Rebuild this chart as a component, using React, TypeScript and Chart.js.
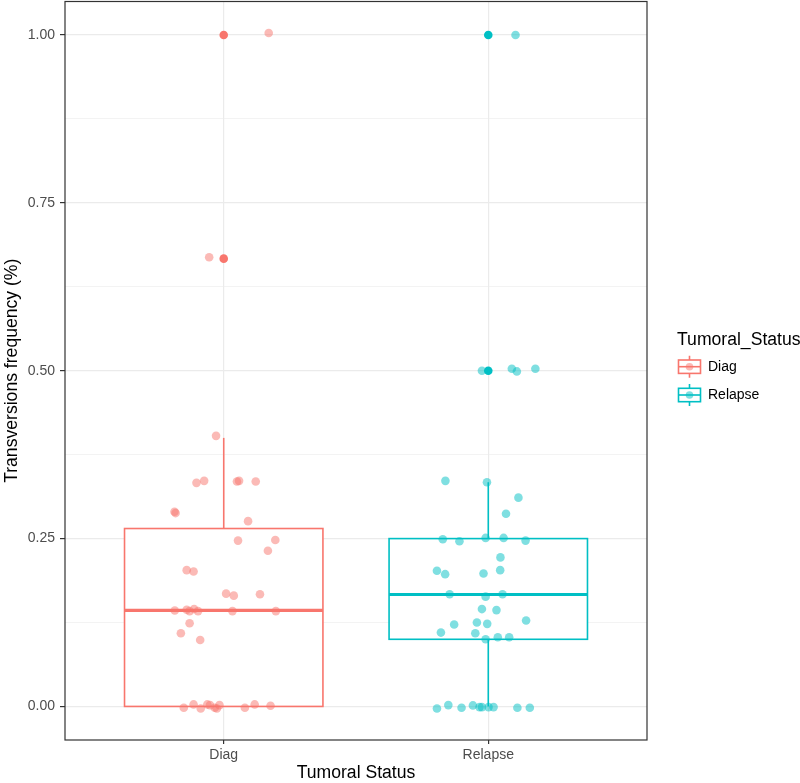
import React, { useEffect, useRef } from "react";
import { Chart, registerables } from "chart.js";

Chart.register(...registerables);

const CATEGORIES = ["Diag", "Relapse"];
const COLORS = ["#F8766D", "#00BFC4"];
const COLORS_ALPHA = ["rgba(248,118,109,0.5)", "rgba(0,191,196,0.5)"];
const Y_TICKS = [0, 0.125, 0.25, 0.375, 0.5, 0.625, 0.75, 0.875, 1.0];
const Y_TICK_LABELS = ["0.00", "", "0.25", "", "0.50", "", "0.75", "", "1.00"];
const X_TITLE = "Tumoral Status";
const Y_TITLE = "Transversions frequency (%)";
const LEGEND_TITLE = "Tumoral_Status";

// box statistics: [lower whisker, Q1, median, Q3, upper whisker]
const DIAG_BOX = [0, 0, 0.143, 0.265, 0.4];
const RELAPSE_BOX = [0, 0.1, 0.1667, 0.25, 0.334];
const DIAG_OUTLIERS = [1.0, 0.667];
const RELAPSE_OUTLIERS = [1.0, 0.5];

// jittered observations (x = category position + jitter)
const DIAG_X = [
  1.17, 0.945, 0.971, 0.897, 0.926, 1.05, 1.058, 1.121, 0.814, 0.818, 1.092,
  1.054, 1.195, 1.167, 0.86, 0.886, 1.009, 1.038, 1.137, 0.815, 0.86, 0.871,
  0.888, 0.903, 1.033, 1.197, 0.871, 0.838, 0.911, 0.849, 0.886, 0.913, 0.938,
  0.948, 0.966, 0.974, 0.984, 1.08, 1.117, 1.177,
];
const DIAG_Y = [
  1.003, 0.669, 0.403, 0.333, 0.336, 0.335, 0.336, 0.335, 0.29, 0.288, 0.276,
  0.247, 0.248, 0.232, 0.203, 0.201, 0.168, 0.165, 0.167, 0.143, 0.144, 0.142,
  0.145, 0.142, 0.142, 0.142, 0.124, 0.109, 0.099, -0.002, 0.003, -0.003, 0.003,
  0.002, -0.002, -0.003, 0.002, -0.002, 0.003, 0.001,
];
const RELAPSE_X = [
  2.103, 1.976, 2.089, 2.108, 2.178, 1.838, 1.995, 2.114, 2.067, 1.828, 1.891,
  1.99, 2.058, 2.141, 2.046, 1.806, 1.837, 1.982, 2.045, 1.854, 1.99, 2.054,
  1.976, 2.031, 2.143, 1.871, 1.957, 1.996, 1.821, 1.951, 1.99, 2.036, 2.079,
  1.806, 1.849, 1.899, 1.942, 1.967, 1.976, 2.001, 2.02, 2.11, 2.157,
];
const RELAPSE_Y = [
  1.0, 0.5, 0.503, 0.499, 0.503, 0.336, 0.334, 0.311, 0.287, 0.249, 0.246,
  0.251, 0.251, 0.247, 0.222, 0.202, 0.197, 0.198, 0.203, 0.167, 0.1635, 0.167,
  0.145, 0.1435, 0.128, 0.122, 0.125, 0.123, 0.11, 0.109, 0.1, 0.103, 0.103,
  -0.003, 0.002, -0.002, 0.0015, -0.001, -0.001, -0.001, -0.001, -0.002, -0.002,
];

const FONT = "'Liberation Sans', Arial, sans-serif";
const BOX_WIDTH = 0.75;

const isMajor = (v: number) => Math.abs(v / 0.25 - Math.round(v / 0.25)) < 1e-6;

const panelPlugin = {
  id: "ggpanel",
  beforeDatasetsDraw(chart: any) {
    const { ctx, scales } = chart;
    const x = scales.x;
    const y = scales.y;
    [DIAG_BOX, RELAPSE_BOX].forEach((b, i) => {
      const pos = i + 1;
      const cx = x.getPixelForValue(pos);
      const l = x.getPixelForValue(pos - BOX_WIDTH / 2);
      const r = x.getPixelForValue(pos + BOX_WIDTH / 2);
      const [lw, q1, med, q3, uw] = b.map((v) => y.getPixelForValue(v));
      ctx.save();
      ctx.strokeStyle = COLORS[i];
      ctx.lineWidth = 1.6;
      ctx.beginPath();
      ctx.moveTo(cx, q3);
      ctx.lineTo(cx, uw);
      ctx.moveTo(cx, q1);
      ctx.lineTo(cx, lw);
      ctx.stroke();
      ctx.fillStyle = "#FFFFFF";
      ctx.fillRect(l, q3, r - l, q1 - q3);
      ctx.strokeRect(l, q3, r - l, q1 - q3);
      ctx.lineWidth = 3.2;
      ctx.beginPath();
      ctx.moveTo(l, med);
      ctx.lineTo(r, med);
      ctx.stroke();
      ctx.restore();
    });
  },
  afterDraw(chart: any) {
    const { ctx, chartArea } = chart;
    ctx.save();
    ctx.strokeStyle = "#333333";
    ctx.lineWidth = 1.2;
    ctx.strokeRect(chartArea.left, chartArea.top, chartArea.right - chartArea.left, chartArea.bottom - chartArea.top);

    // axis titles
    ctx.fillStyle = "#000000";
    ctx.font = `17.6px ${FONT}`;
    ctx.textAlign = "center";
    ctx.textBaseline = "middle";
    ctx.fillText(X_TITLE, (chartArea.left + chartArea.right) / 2, 773);
    ctx.save();
    ctx.translate(12, (chartArea.top + chartArea.bottom) / 2);
    ctx.rotate(-Math.PI / 2);
    ctx.fillText(Y_TITLE, 0, 0);
    ctx.restore();

    // legend
    ctx.textAlign = "left";
    ctx.fillText(LEGEND_TITLE, 677, 340);
    ctx.font = `14px ${FONT}`;
    CATEGORIES.forEach((c, i) => {
      const cy = 366.7 + i * 28.3;
      const kl = 678.5;
      const kr = 700.5;
      const kc = (kl + kr) / 2;
      ctx.strokeStyle = COLORS[i];
      ctx.lineWidth = 1.6;
      ctx.beginPath();
      ctx.moveTo(kc, cy - 11);
      ctx.lineTo(kc, cy - 6.7);
      ctx.moveTo(kc, cy + 6.7);
      ctx.lineTo(kc, cy + 11);
      ctx.stroke();
      ctx.strokeRect(kl, cy - 6.7, kr - kl, 13.4);
      ctx.beginPath();
      ctx.moveTo(kl, cy);
      ctx.lineTo(kr, cy);
      ctx.stroke();
      ctx.fillStyle = COLORS_ALPHA[i];
      ctx.beginPath();
      ctx.arc(kc, cy, 3.8, 0, Math.PI * 2);
      ctx.fill();
      ctx.fillStyle = "#000000";
      ctx.fillText(c, 708, cy);
    });
    ctx.restore();
  },
};

export default function App() {
  const ref = useRef<HTMLCanvasElement | null>(null);
  useEffect(() => {
    if (!ref.current) return;
    const toPts = (xs: number[], ys: number[]) => xs.map((v, i) => ({ x: v, y: ys[i] }));
    const chart = new Chart(ref.current, {
      type: "scatter",
      data: {
        datasets: [
          {
            label: "Diag jitter",
            data: toPts(DIAG_X, DIAG_Y),
            backgroundColor: COLORS_ALPHA[0],
            borderWidth: 0,
            pointRadius: 4.3,
            order: 1,
          },
          {
            label: "Relapse jitter",
            data: toPts(RELAPSE_X, RELAPSE_Y),
            backgroundColor: COLORS_ALPHA[1],
            borderWidth: 0,
            pointRadius: 4.3,
            order: 1,
          },
          {
            label: "Diag outliers",
            data: DIAG_OUTLIERS.map((v) => ({ x: 1, y: v })),
            backgroundColor: COLORS[0],
            borderWidth: 0,
            pointRadius: 4.3,
            order: 2,
          },
          {
            label: "Relapse outliers",
            data: RELAPSE_OUTLIERS.map((v) => ({ x: 2, y: v })),
            backgroundColor: COLORS[1],
            borderWidth: 0,
            pointRadius: 4.3,
            order: 2,
          },
        ],
      },
      options: {
        animation: false,
        responsive: true,
        maintainAspectRatio: false,
        layout: { autoPadding: false, padding: { left: 0, right: 153, top: 1.5, bottom: 0 } },
        plugins: { legend: { display: false }, tooltip: { enabled: false } },
        scales: {
          x: {
            type: "linear",
            min: 0.4,
            max: 2.6,
            afterBuildTicks: (s: any) => {
              s.ticks = CATEGORIES.map((_, i) => ({ value: i + 1 }));
            },
            afterFit: (s: any) => {
              s.height = 43;
              s.paddingLeft = 0;
              s.paddingRight = 0;
            },
            ticks: {
              callback: (_v: any, i: number) => CATEGORIES[i],
              color: "#4D4D4D",
              font: { family: FONT, size: 14 },
              padding: 3,
              maxRotation: 0,
            },
            grid: {
              color: "#EBEBEB",
              lineWidth: 1.2,
              tickColor: "#333333",
              tickLength: 4,
              tickWidth: 1.2,
            },
            border: { display: false },
          },
          y: {
            type: "linear",
            min: -0.05,
            max: 1.05,
            afterBuildTicks: (s: any) => {
              s.ticks = Y_TICKS.map((v) => ({ value: v }));
            },
            afterFit: (s: any) => {
              s.width = 65;
              s.paddingTop = 0;
              s.paddingBottom = 0;
            },
            ticks: {
              callback: (_v: any, i: number) => Y_TICK_LABELS[i],
              color: "#4D4D4D",
              font: { family: FONT, size: 14 },
              padding: 5,
              autoSkip: false,
            },
            grid: {
              color: "#EBEBEB",
              lineWidth: (c: any) => (c.tick && isMajor(c.tick.value) ? 1.2 : 0.6),
              tickColor: (c: any) => (c.tick && isMajor(c.tick.value) ? "#333333" : "rgba(0,0,0,0)"),
              tickLength: 5,
              tickWidth: 1.2,
            },
            border: { display: false },
          },
        },
      },
      plugins: [panelPlugin],
    });
    return () => chart.destroy();
  }, []);
  return (
    <div style={{ position: "absolute", left: 0, top: 0, width: 800, height: 783, background: "#FFFFFF" }}>
      <canvas ref={ref} />
    </div>
  );
}
